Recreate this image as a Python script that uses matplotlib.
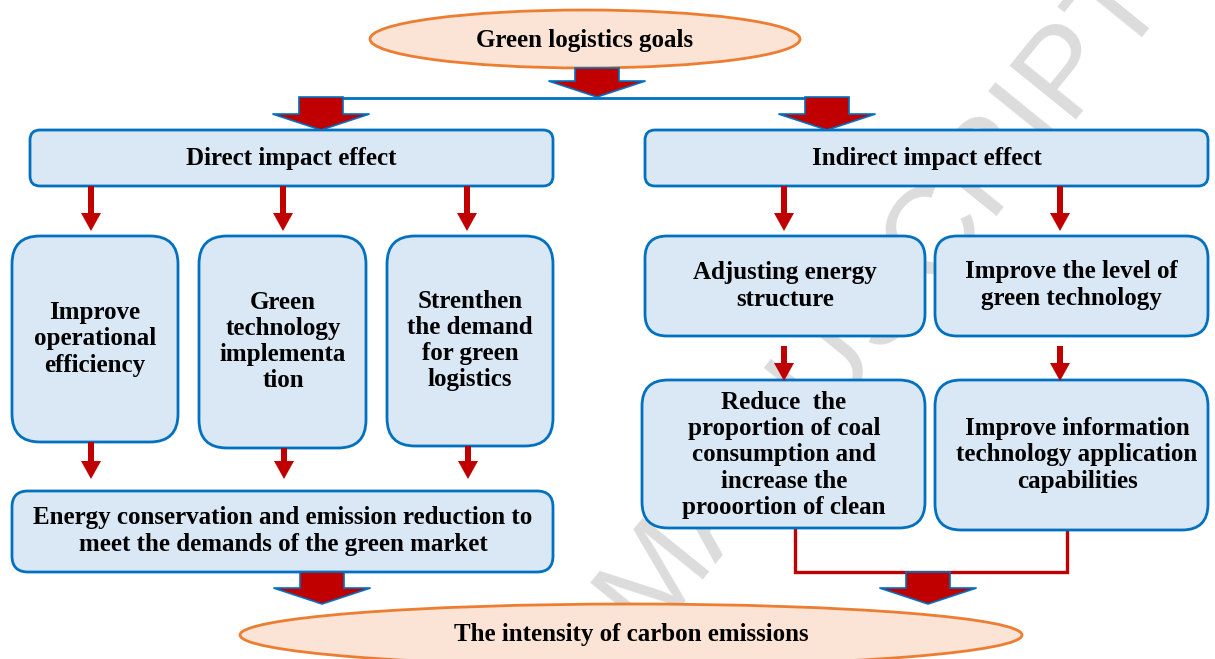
import matplotlib
matplotlib.use("Agg")
import matplotlib.pyplot as plt
from matplotlib.patches import FancyBboxPatch, Ellipse, Polygon

# ---- content ----
top_goal = "Green logistics goals"
bottom_goal = "The intensity of carbon emissions"
effect_labels = ["Direct impact effect", "Indirect impact effect"]
direct_labels = ["Improve\noperational\nefficiency",
                 "Green\ntechnology\nimplementa\ntion",
                 "Strenthen\nthe demand\nfor green\nlogistics"]
direct_result = "Energy conservation and emission reduction to\nmeet the demands of the green market"
indirect_labels = ["Adjusting energy\nstructure",
                   "Improve the level of\ngreen technology"]
indirect_results = ["Reduce  the\nproportion of coal\nconsumption and\nincrease the\nprooortion of clean",
                    "Improve information\ntechnology application\ncapabilities"]
watermark = "MANUSCRIPT"

# ---- style ----
BOX_FILL = "#DAE8F6"
BOX_EDGE = "#0070C0"
RED = "#C00000"
ELL_FILL = "#FBE4D5"
ELL_EDGE = "#ED7D31"
FONT = dict(family="Liberation Serif", weight="bold", fontsize=18,
            ha="center", va="center", linespacing=1.18, color="black", zorder=10)

W, H = 1215, 659
fig = plt.figure(figsize=(W / 100, H / 100), dpi=100)
ax = fig.add_axes([0, 0, 1, 1])
ax.set_xlim(0, W)
ax.set_ylim(H, 0)
ax.axis("off")

# watermark
ax.text(882, 295, watermark, family="Liberation Sans", fontsize=90,
        color="#DCDCDC", rotation=51, ha="center", va="center", zorder=0)


def rbox(x0, y0, x1, y1, r, text, tx=None, ty=None):
    p = FancyBboxPatch((x0, y0), x1 - x0, y1 - y0,
                       boxstyle=f"round,pad=0,rounding_size={r}",
                       fc=BOX_FILL, ec=BOX_EDGE, lw=2.0, zorder=3)
    ax.add_patch(p)
    ax.text((x0 + x1) / 2 if tx is None else tx,
            (y0 + y1) / 2 if ty is None else ty, text, **FONT)


def ellipse(cx, cy, w, h, text, ty=None):
    ax.add_patch(Ellipse((cx, cy), w, h, fc=ELL_FILL, ec=ELL_EDGE, lw=2.0, zorder=3))
    ax.text(cx, cy if ty is None else ty, text, **FONT)


def block_arrow(xc, y0, y1, sw=44, hw=97, hl=16):
    pts = [(xc - sw / 2, y0), (xc + sw / 2, y0), (xc + sw / 2, y1 - hl),
           (xc + hw / 2, y1 - hl), (xc, y1), (xc - hw / 2, y1 - hl),
           (xc - sw / 2, y1 - hl)]
    ax.add_patch(Polygon(pts, closed=True, fc=RED, ec=BOX_EDGE, lw=1.2,
                         joinstyle="miter", zorder=4))


def small_arrow(xc, y0, y1, sw=6, hw=20, hl=18):
    pts = [(xc - sw / 2, y0), (xc + sw / 2, y0), (xc + sw / 2, y1 - hl),
           (xc + hw / 2, y1 - hl), (xc, y1), (xc - hw / 2, y1 - hl),
           (xc - sw / 2, y1 - hl)]
    ax.add_patch(Polygon(pts, closed=True, fc=RED, ec="none", zorder=4))


# top
ellipse(585, 39, 430, 58, top_goal, ty=41)
ax.plot([299, 849], [97.5, 97.5], color=BOX_EDGE, lw=2.0, zorder=3, solid_capstyle="butt")
block_arrow(597, 68, 97)
block_arrow(321, 97, 130)
block_arrow(827, 97, 130)

# effect boxes
rbox(30, 130, 553, 186, 10, effect_labels[0], ty=159)
rbox(645, 130, 1208, 186, 10, effect_labels[1], ty=159)

# direct branch
dx = [(12, 178, 442, 95, 339), (199, 366, 448, 283, 341.5), (387, 553, 446, 470, 340.5)]
for (x0, x1, yb, tx, ty), lab in zip(dx, direct_labels):
    rbox(x0, 236, x1, yb, 28, lab, tx=tx, ty=ty)
for xc in (91, 283, 467):
    small_arrow(xc, 186, 231)
for xc, yb in ((91, 442), (284, 448), (468, 446)):
    small_arrow(xc, yb, 479)
rbox(12, 491, 553, 572, 16, direct_result, tx=283, ty=531)

# indirect branch
for xc in (784, 1060):
    small_arrow(xc, 186, 231)
rbox(645, 236, 925, 336, 22, indirect_labels[0], tx=785, ty=286)
rbox(935, 236, 1208, 336, 22, indirect_labels[1], tx=1071, ty=285)
for xc in (784, 1060):
    small_arrow(xc, 346, 381)
rbox(642, 380, 925, 528, 26, indirect_results[0], tx=784, ty=455)
rbox(935, 380, 1208, 530, 26, indirect_results[1], tx=1077, ty=455)
ax.plot([795, 795, 1067, 1067], [528, 572, 572, 530], color=RED, lw=2.4, zorder=2,
        solid_joinstyle="miter")

# bottom
block_arrow(322, 572, 604)
block_arrow(928, 572, 604)
ellipse(631, 635, 782, 62, bottom_goal, ty=634)

fig.savefig("out.png", dpi=100)
